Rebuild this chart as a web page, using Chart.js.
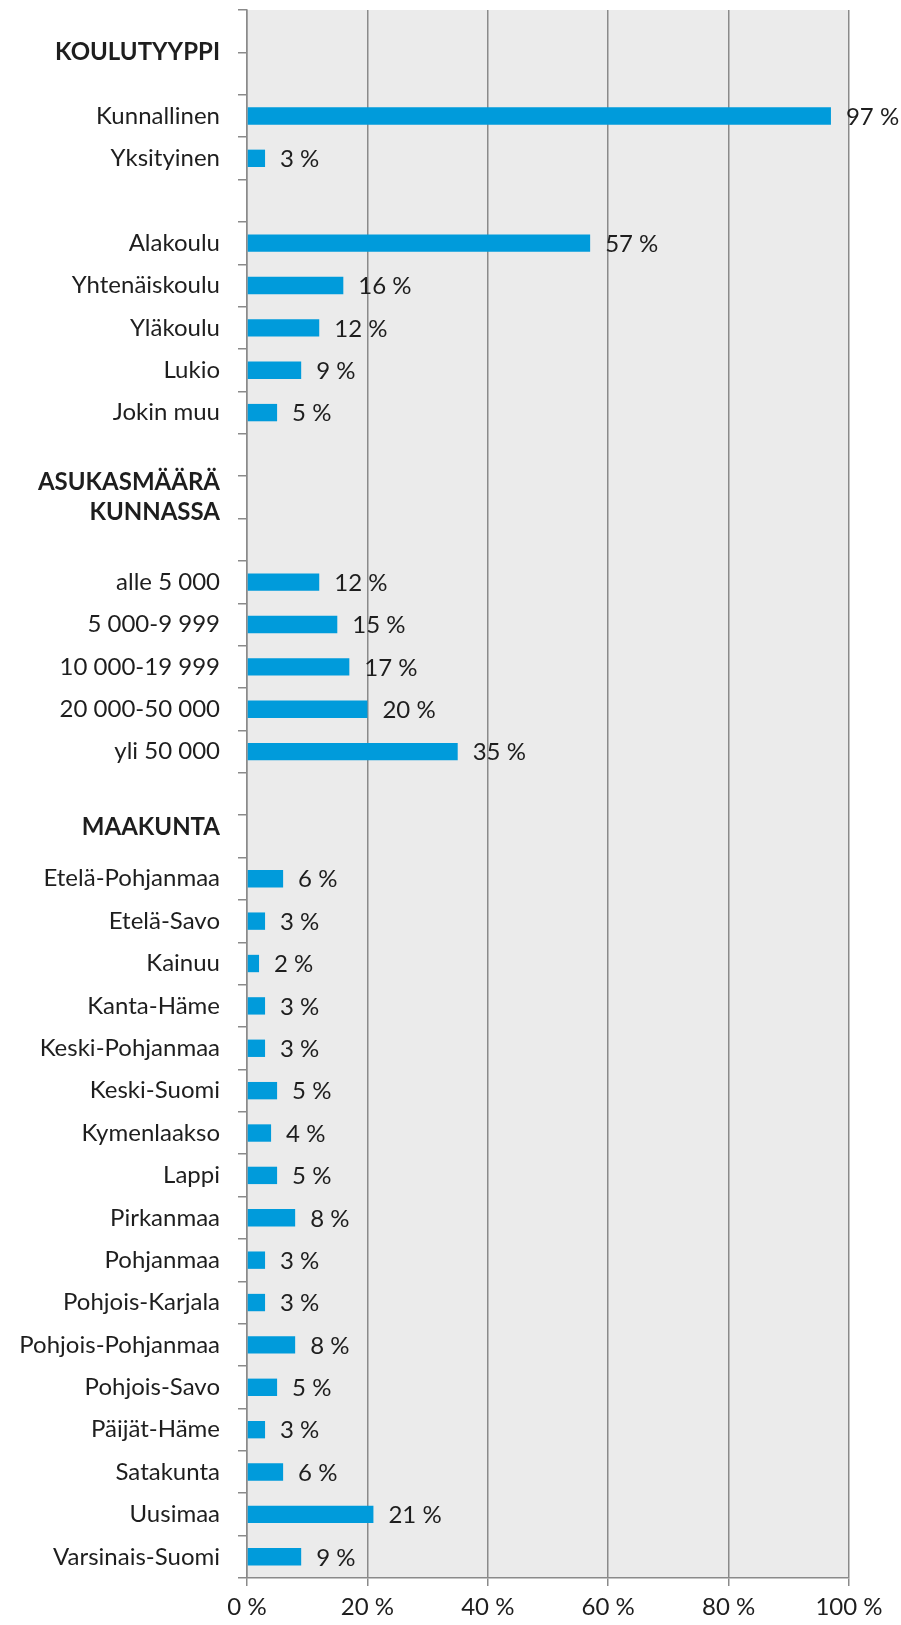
<!DOCTYPE html>
<html>
<head>
<meta charset="utf-8">
<script src="https://cdn.jsdelivr.net/npm/chart.js@4.4.0/dist/chart.umd.min.js"></script>
<style>
  html, body { margin: 0; padding: 0; background: #fff; }
  #wrap { width: 901px; height: 1625px; position: relative; }
</style>
</head>
<body>
<div id="wrap"><canvas id="myBarChart"></canvas></div>
<script>
// category labels, header rows are given as multi-line arrays
const categories = [
    ['', 'KOULUTYYPPI'], '', 'Kunnallinen', 'Yksityinen', '',
    'Alakoulu', 'Yhtenäiskoulu', 'Yläkoulu', 'Lukio', 'Jokin muu', '',
    ['ASUKASMÄÄRÄ', 'KUNNASSA'], '',
    'alle 5 000', '5 000-9 999', '10 000-19 999', '20 000-50 000', 'yli 50 000', '',
    ['MAAKUNTA', ''],
    'Etelä-Pohjanmaa', 'Etelä-Savo', 'Kainuu', 'Kanta-Häme', 'Keski-Pohjanmaa',
    'Keski-Suomi', 'Kymenlaakso', 'Lappi', 'Pirkanmaa', 'Pohjanmaa',
    'Pohjois-Karjala', 'Pohjois-Pohjanmaa', 'Pohjois-Savo', 'Päijät-Häme',
    'Satakunta', 'Uusimaa', 'Varsinais-Suomi'
];

// percentages, null for headers and empty rows
const values = [
    null, null, 97, 3, null,
    57, 16, 12, 9, 5, null,
    null, null,
    12, 15, 17, 20, 35, null,
    null,
    6, 3, 2, 3, 3,
    5, 4, 5, 8, 3,
    3, 8, 5, 3,
    6, 21, 9
];

const xTicks = [0, 20, 40, 60, 80, 100];

// header rows get bold text (value = line height)
const headerRows = { 0: 1.75, 11: 1.25, 19: 0.75 };

const FONT = 'Lato, "Open Sans", sans-serif';
const TEXT = '#1e1e1e';
const GRID = '#8a8a8a';

// grey plot background
const plotBackground = {
    id: 'plotBackground',
    beforeDraw(chart) {
        const { ctx, chartArea } = chart;
        ctx.save();
        ctx.fillStyle = '#ebebeb';
        ctx.fillRect(chartArea.left, chartArea.top, chartArea.width, chartArea.height);
        ctx.restore();
    }
};

// "97 %" labels next to the bars
const barValueLabels = {
    id: 'barValueLabels',
    afterDatasetsDraw(chart) {
        const ctx = chart.ctx;
        const meta = chart.getDatasetMeta(0);
        ctx.save();
        ctx.font = '24px ' + FONT;
        ctx.fillStyle = TEXT;
        ctx.textAlign = 'left';
        ctx.textBaseline = 'middle';
        meta.data.forEach((bar, i) => {
            const v = values[i];
            if (v === null) return;
            ctx.fillText(v + ' %', bar.x + 15, bar.y + 1);
        });
        ctx.restore();
    }
};

const ctx = document.getElementById('myBarChart').getContext('2d');
new Chart(ctx, {
    type: 'bar',
    data: {
        labels: categories,
        datasets: [{
            data: values,
            backgroundColor: '#009bdb',
            barPercentage: 0.41,
            categoryPercentage: 1,
            borderWidth: 0
        }]
    },
    options: {
        indexAxis: 'y',
        responsive: true,
        maintainAspectRatio: false,
        animation: false,
        layout: { padding: { top: 10, right: 52, left: 0, bottom: 0 } },
        plugins: {
            legend: { display: false },
            tooltip: { enabled: false }
        },
        scales: {
            x: {
                min: 0,
                max: 100,
                afterBuildTicks(scale) {
                    scale.ticks = xTicks.map(v => ({ value: v }));
                },
                afterFit(scale) { scale.height = 47; },
                grid: {
                    color: GRID,
                    lineWidth: 1.5,
                    drawTicks: true,
                    tickLength: 8
                },
                border: { color: GRID, width: 1.5 },
                ticks: {
                    color: TEXT,
                    padding: 7,
                    font: { family: FONT, size: 24 },
                    callback: v => v + ' %'
                }
            },
            y: {
                afterFit(scale) {
                    scale.width = 247;
                    scale.paddingTop = 0;
                    scale.paddingBottom = 0;
                },
                grid: {
                    drawOnChartArea: false,
                    color: GRID,
                    lineWidth: 1.5,
                    tickLength: 9,
                    offset: true
                },
                border: { color: GRID, width: 1.5 },
                ticks: {
                    color: TEXT,
                    padding: 18,
                    autoSkip: false,
                    font: c => {
                        const lh = headerRows[c.index];
                        return lh
                            ? { family: FONT, size: 24, weight: 'bold', lineHeight: lh }
                            : { family: FONT, size: 24, weight: 'normal' };
                    }
                }
            }
        }
    },
    plugins: [plotBackground, barValueLabels]
});
</script>
</body>
</html>
